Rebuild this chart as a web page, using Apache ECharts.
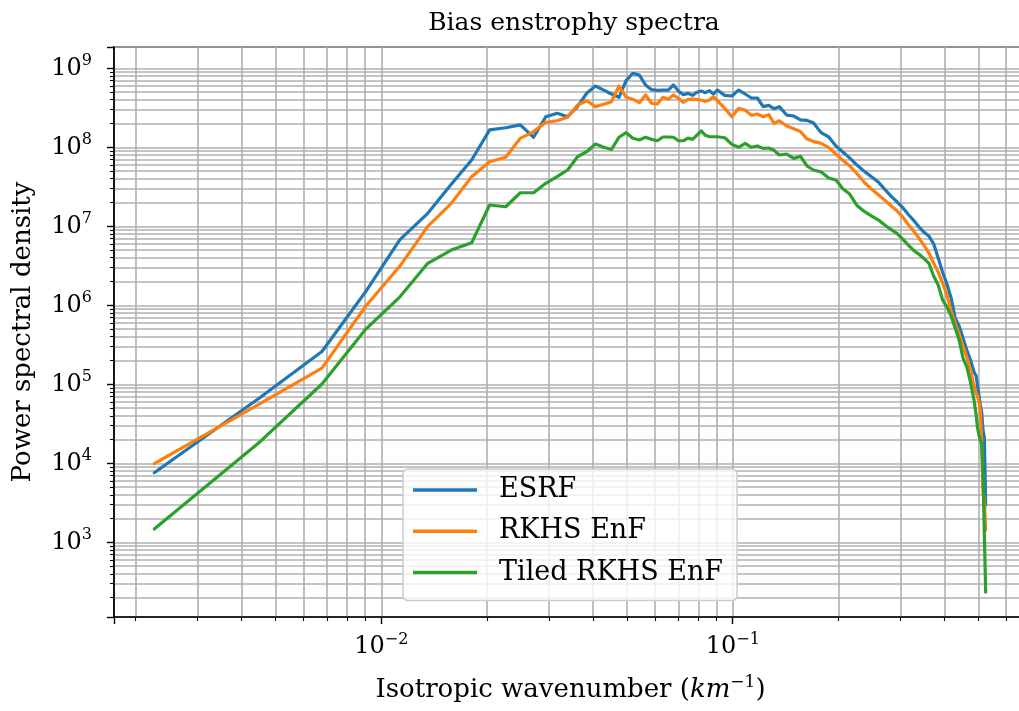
<!DOCTYPE html>
<html><head><meta charset="utf-8">
<script src="https://cdn.jsdelivr.net/npm/echarts/dist/echarts.min.js"></script>
<style>html,body{margin:0;padding:0;background:#fff}#c{width:1019px;height:711px}</style>
</head><body><div id="c"></div>
<script>
// Isotropic wavenumber (km^-1)
const wavenumber = [
0.00226,0.00452,0.00678,0.00904,0.0113,0.01356,0.01582,0.01808,0.02034,0.0226,
0.02486,0.02712,0.02938,0.03164,0.0339,0.03616,0.03842,0.04068,0.04294,0.0452,
0.04746,0.04972,0.05198,0.05424,0.0565,0.05876,0.06102,0.06328,0.06554,0.0678,
0.07006,0.07232,0.07458,0.07684,0.0791,0.08136,0.08362,0.08588,0.08814,0.0904,
0.09492,0.09944,0.10396,0.10848,0.113,0.11752,0.12204,0.12656,0.13108,0.1356,
0.14238,0.14916,0.15594,0.16272,0.1695,0.17854,0.18758,0.19662,0.20566,0.2147,
0.226,0.2373,0.2486,0.2599,0.2712,0.2825,0.2938,0.3051,0.3164,0.3277,
0.339,0.3503,0.3616,0.3729,0.3842,0.3955,0.4068,0.4181,0.4294,0.4407,
0.452,0.4633,0.4746,0.4859,0.49268,0.4972,0.50172,0.50624,0.51076,0.51528,
0.5198,0.52432];
const esrf = [
7.6e3,6.8e4,2.6e5,1.5e6,6.8e6,1.46e7,3.4e7,6.9e7,1.66e8,1.77e8,
1.92e8,1.34e8,2.44e8,2.7e8,2.44e8,3.27e8,4.83e8,5.97e8,5.3e8,4.73e8,
4.3e8,6.97e8,8.65e8,8.2e8,6.15e8,5.37e8,5.26e8,5.31e8,5.31e8,6.15e8,
5.16e8,4.63e8,4.82e8,4.55e8,4.97e8,5.16e8,4.92e8,5.21e8,4.73e8,5.31e8,
4.55e8,4.46e8,5.31e8,4.73e8,4.21e8,4.21e8,3.27e8,3.4e8,3.08e8,3.27e8,
2.56e8,2.49e8,2.22e8,2.19e8,2.05e8,1.53e8,1.35e8,1.04e8,8.73e7,7.4e7,
5.92e7,4.92e7,4.21e7,3.61e7,2.91e7,2.39e7,2.03e7,1.71e7,1.4e7,1.18e7,
9.8e6,8.4e6,7.5e6,6.0e6,3.97e6,2.62e6,1.86e6,1.24e6,6.9e5,5.47e5,
3.85e5,2.72e5,2.03e5,1.43e5,1.27e5,1.24e5,7.3e4,5.47e4,4.46e4,2.64e4,
2.15e4,2.96e3];
const rkhsEnf = [
9.9e3,5.7e4,1.6e5,9.8e5,3.14e6,1.0e7,1.95e7,4.25e7,6.57e7,7.47e7,
1.3e8,1.58e8,2.07e8,2.17e8,2.4e8,3.43e8,3.89e8,3.27e8,3.5e8,3.78e8,
5.97e8,4.3e8,4.05e8,3.67e8,4.59e8,3.61e8,3.53e8,4.29e8,4.05e8,4.59e8,
4.17e8,3.71e8,4.05e8,4.08e8,4.05e8,3.94e8,3.82e8,3.97e8,4.38e8,3.89e8,
3.11e8,2.44e8,3.11e8,2.94e8,2.54e8,2.64e8,2.44e8,2.59e8,2.01e8,2.17e8,
1.86e8,1.72e8,1.58e8,1.27e8,1.19e8,1.12e8,9.9e7,8.22e7,6.84e7,5.85e7,
4.59e7,3.56e7,2.94e7,2.49e7,2.13e7,1.81e7,1.56e7,1.3e7,1.04e7,8.63e6,
7.05e6,5.74e6,4.59e6,3.43e6,2.64e6,1.91e6,1.35e6,8.5e5,5.97e5,4.34e5,
3.05e5,2.22e5,1.52e5,9.5e4,7.76e4,7.1e4,5.97e4,4.73e4,1.97e4,4.6e3,
3.4e3,1.43e3];
const tiledRkhsEnf = [
1.47e3,1.88e4,1.01e5,5.0e5,1.28e6,3.4e6,5.0e6,6.2e6,1.86e7,1.77e7,
2.66e7,2.66e7,3.5e7,4.25e7,5.16e7,7.6e7,8.8e7,1.1e8,1.0e8,9.4e7,
1.34e8,1.53e8,1.3e8,1.24e8,1.34e8,1.26e8,1.21e8,1.35e8,1.35e8,1.34e8,
1.21e8,1.21e8,1.31e8,1.26e8,1.43e8,1.61e8,1.42e8,1.36e8,1.36e8,1.36e8,
1.32e8,1.09e8,1.0e8,1.12e8,1.0e8,1.04e8,9.7e7,9.8e7,9.16e7,8.0e7,
8.22e7,7.24e7,7.69e7,5.8e7,5.16e7,4.86e7,4.08e7,3.85e7,2.99e7,2.59e7,
1.82e7,1.53e7,1.35e7,1.2e7,1.03e7,9.06e6,8.07e6,6.84e6,5.74e6,4.92e6,
4.42e6,3.89e6,3.4e6,2.35e6,1.81e6,1.17e6,9.5e5,7.3e5,5.16e5,3.64e5,
2.15e5,1.66e5,1.07e5,6.3e4,4.08e4,2.8e4,2.28e4,1.97e4,1.75e4,6.9e3,
1.31e3,234];
const seriesNames = ['ESRF', 'RKHS EnF', 'Tiled RKHS EnF'];
const seriesColors = ['#1f77b4', '#ff7f0e', '#2ca02c'];

const F = 'DejaVu Serif';
const FS = 24;
function powLabel(v) {
  const l = Math.log10(v);
  const e = Math.round(l);
  if (Math.abs(l - e) > 1e-6) return '';
  return '{b|10}{s|' + (e < 0 ? '\u2212' + (-e) : String(e)) + '}';
}
const richPow = {
  b: {fontFamily: F, fontSize: FS, lineHeight: 30, color: '#000'},
  s: {fontFamily: F, fontSize: 16, lineHeight: 16, verticalAlign: 'top', color: '#000'}
};
const gridLine = {show: true, lineStyle: {color: '#b0b0b0', width: 1.6}};
function axisCommon() {
  return {
    axisLine: {show: true, onZero: false, lineStyle: {color: '#000', width: 1.7}},
    axisTick: {show: true, inside: false, length: 7, lineStyle: {color: '#000', width: 1.4}},
    minorTick: {show: true, splitNumber: 9, length: 4, lineStyle: {color: '#000', width: 1.1}},
    splitLine: gridLine,
    minorSplitLine: gridLine
  };
}
const chart = echarts.init(document.getElementById('c'), null, {renderer: 'canvas'});
const data = [esrf, rkhsEnf, tiledRkhsEnf];
chart.setOption({
  animation: false,
  backgroundColor: '#fff',
  title: {
    text: 'Bias enstrophy spectra', left: 569, top: 6, textAlign: 'center',
    textStyle: {fontFamily: F, fontSize: 25, fontWeight: 'normal', color: '#000'}
  },
  grid: {left: 114, top: 47, width: 913, height: 570, show: true, borderColor: '#000', borderWidth: 1.7,
         containLabel: false, outerBoundsMode: 'none'},
  xAxis: Object.assign({
    type: 'log', logBase: 10, min: 0.001736, max: 0.6874,
    name: '{n|Isotropic wavenumber (}{i|km}{s|\u22121}{n|)}',
    nameLocation: 'middle', nameGap: 57,
    nameTextStyle: {rich: {
      n: {fontFamily: F, fontSize: 26, lineHeight: 32, color: '#000'},
      i: {fontFamily: F, fontSize: 26, fontStyle: 'italic', lineHeight: 32, color: '#000'},
      s: {fontFamily: F, fontSize: 17, lineHeight: 17, verticalAlign: 'top', color: '#000'}
    }},
    axisLabel: {formatter: powLabel, margin: 15, rich: richPow}
  }, axisCommon()),
  yAxis: Object.assign({
    type: 'log', logBase: 10, min: 113.4, max: 1.861e9,
    name: 'Power spectral density', nameLocation: 'middle', nameGap: 78,
    nameTextStyle: {fontFamily: F, fontSize: 26, color: '#000'},
    axisLabel: {formatter: powLabel, margin: 22, rich: richPow}
  }, axisCommon()),
  legend: {
    orient: 'vertical', left: 403, top: 469,
    data: seriesNames,
    icon: 'rect', itemWidth: 64, itemHeight: 3.5, itemGap: 13.3,
    padding: [7, 14, 14, 10],
    backgroundColor: 'rgba(255,255,255,0.8)', borderColor: '#cccccc', borderWidth: 1.5, borderRadius: 5,
    textStyle: {fontFamily: F, fontSize: 27, lineHeight: 28, color: '#000', padding: [0, 0, 0, 17]}
  },
  series: data.map((d, i) => ({
    name: seriesNames[i], type: 'line', symbol: 'none', showSymbol: false,
    color: seriesColors[i],
    lineStyle: {width: 3.2, color: seriesColors[i], join: 'round', cap: 'round'},
    data: wavenumber.map((k, j) => [k, d[j]])
  }))
});
</script></body></html>
